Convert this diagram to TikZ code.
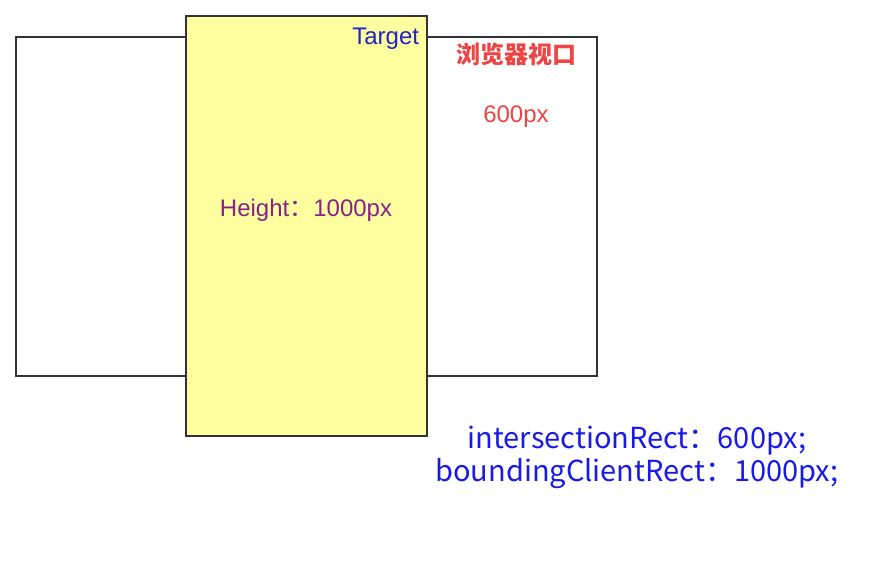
\documentclass[tikz,border=0pt]{standalone}
\usepackage{fontspec}
\setmainfont{Liberation Sans}
\newfontfamily\cjk{Noto Sans CJK SC}
\definecolor{targetfill}{RGB}{255,255,160}
\definecolor{framegray}{RGB}{51,51,51}
\definecolor{labelblue}{RGB}{34,34,204}
\definecolor{labelred}{RGB}{238,68,68}
\definecolor{labelpurple}{RGB}{136,34,136}
\definecolor{noteblue}{RGB}{26,26,230}

\begin{document}
\begin{tikzpicture}[x=1pt,y=-1pt,line width=2pt,
  frame/.style={draw=framegray},
  lbl/.style={inner sep=0pt,font=\fontsize{24}{28}\selectfont}]
  \useasboundingbox[fill=white] (0,0) rectangle (884,588);
  % viewport
  \draw[frame] (16,37) rectangle (597,376);
  % target
  \filldraw[frame,fill=targetfill] (186,16) rectangle (427,436);
  \node[lbl,anchor=east,text=labelblue] (target) at (420,39) {Target};
  \node[lbl,text=labelpurple] (height) at (306,210) {Height{\cjk ：}1000px};
  % viewport labels
  \node[lbl,text=labelred,font=\cjk\bfseries\fontsize{24}{28}\selectfont] (viewport) at (516,54) {浏览器视口};
  \node[lbl,text=labelred] (vheight) at (516,117) {600px};
  % notes
  \node[text=noteblue,align=center,inner sep=0pt,font=\cjk\fontsize{29}{33}\selectfont] (note) at (637,457)
    {intersectionRect：600px;\\boundingClientRect：1000px;};
\end{tikzpicture}
\end{document}
